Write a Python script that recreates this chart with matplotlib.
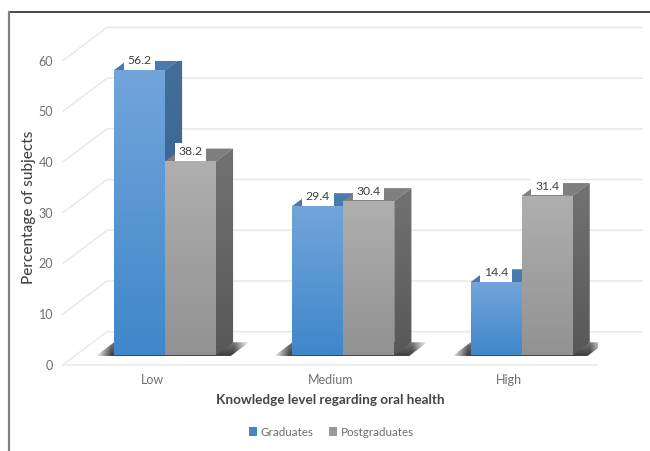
import numpy as np
import matplotlib
matplotlib.use("Agg")
import matplotlib.pyplot as plt
from matplotlib.colors import to_rgb
from matplotlib.lines import Line2D
from matplotlib.patches import Patch, Polygon

plt.rcParams["font.family"] = ["Lato", "DejaVu Sans"]

categories = ["Low", "Medium", "High"]
graduates = [56.2, 29.4, 14.4]
postgraduates = [38.2, 30.4, 31.4]
y_ticks = [0, 10, 20, 30, 40, 50, 60]

W, H = 650, 451
fig = plt.figure(figsize=(W / 100, H / 100), dpi=100, facecolor="white")
# The axes rectangle is the front edge of the chart floor.
ax = fig.add_axes([63 / W, 1 - 364.7 / H, 535 / W, 304.2 / H])
ax.set_xlim(-0.5, 2.5)
ax.set_ylim(0, 60)
ax.patch.set_visible(False)
for s in ax.spines.values():
    s.set_visible(False)

# Oblique projection: depth 1 is the back wall.
DEPTH_X = 44 / (535 / 3)
DEPTH_Y = 33 / (304.2 / 60)
BAR_FRONT, BAR_BACK = 0.29, 0.68
BAR_W = 51 / (535 / 3)


def proj(x, v, d):
    return x + d * DEPTH_X, v + d * DEPTH_Y


def gradient_poly(pts, top, bottom, z):
    pts = np.array(pts)
    c0, c1 = np.array(to_rgb(top)), np.array(to_rgb(bottom))
    t = np.linspace(0, 1, 128)[:, None, None]
    img = c0[None, None, :] * (1 - t) + c1[None, None, :] * t
    ext = (pts[:, 0].min(), pts[:, 0].max(), pts[:, 1].min(), pts[:, 1].max())
    im = ax.imshow(img, extent=ext, origin="upper", aspect="auto", zorder=z,
                   interpolation="bilinear")
    clip = Polygon(pts, closed=True, transform=ax.transData, fc="none", ec="none")
    ax.add_patch(clip)
    im.set_clip_path(clip)


def draw_shadow(x0, x1, z):
    # Soft dark sliver on the floor behind and beside a pair of bars.
    pad_l, pad_r = 17 / (535 / 3), 16 / (535 / 3)
    a = proj(x0 - pad_l, 0, 0.265)
    b = proj(x1 + pad_r, 0, 0.265)
    c = proj(x1 + pad_r, 0, BAR_BACK)
    d = proj(x0 - pad_l, 0, BAR_BACK)
    pts = np.array([a, b, c, d])
    xs = np.linspace(0, 1, 256)
    ys = np.linspace(0.7, 1, 32)[:, None]
    alpha = np.clip(np.minimum(xs, 1 - xs) / 0.1, 0, 1)[None, :] * ys
    img = np.zeros((32, 256, 4))
    img[..., :3] = to_rgb("#3c3c3c")
    img[..., 3] = alpha
    ext = (pts[:, 0].min(), pts[:, 0].max(), pts[:, 1].min(), pts[:, 1].max())
    im = ax.imshow(img, extent=ext, origin="upper", aspect="auto", zorder=z,
                   interpolation="bilinear")
    clip = Polygon(pts, closed=True, transform=ax.transData, fc="none", ec="none")
    ax.add_patch(clip)
    im.set_clip_path(clip)


def draw_bar(x, value, front, side, roof, z):
    l, r = x, x + BAR_W
    fl = proj(l, 0, BAR_FRONT); fr = proj(r, 0, BAR_FRONT)
    tl = proj(l, value, BAR_FRONT); tr = proj(r, value, BAR_FRONT)
    bl = proj(l, value, BAR_BACK); br = proj(r, value, BAR_BACK)
    sb = proj(r, 0, BAR_BACK)
    ax.add_patch(Polygon([tl, tr, br, bl], closed=True, fc=roof, ec="none", zorder=z))
    gradient_poly([fr, tr, br, sb], side[0], side[1], z)
    gradient_poly([fl, fr, tr, tl], front[0], front[1], z + 0.1)
    return tl, tr


# Back wall, side wall and floor lines
GRID = "#e8e8e8"
left, right = -0.5, 2.5
for v in y_ticks:
    p0 = (left, v)
    p1 = proj(left, v, 1)
    p2 = proj(right, v, 1)
    ax.plot([p0[0], p1[0], p2[0]], [p0[1], p1[1], p2[1]], color=GRID, lw=1.1,
            zorder=1, clip_on=False, solid_joinstyle="miter")
ax.plot([left, right], [0, 0], color=GRID, lw=1.1, zorder=1, clip_on=False)

BLUE_FRONT = ("#72a5da", "#3f87ca")
BLUE_SIDE = ("#446f9c", "#2f5c8c")
BLUE_ROOF = "#4a79ab"
GRAY_FRONT = ("#aeafae", "#929292")
GRAY_SIDE = ("#727272", "#585858")
GRAY_ROOF = "#7f7f7f"

x_all = np.arange(len(categories))
for i in x_all:
    # The pair of bars sits just left of the projected group centre.
    x0 = i - BAR_W
    draw_shadow(x0, x0 + 2 * BAR_W, 2)
    z = 3 + i
    tl, tr = draw_bar(x0, graduates[i], BLUE_FRONT, BLUE_SIDE, BLUE_ROOF, z)
    tl2, tr2 = draw_bar(x0 + BAR_W, postgraduates[i], GRAY_FRONT, GRAY_SIDE, GRAY_ROOF, z + 0.3)
    for (a, b), val, zz in (((tl, tr), graduates[i], z + 0.2), ((tl2, tr2), postgraduates[i], z + 0.6)):
        ax.annotate(f"{val:.1f}", xy=((a[0] + b[0]) / 2, a[1]), xytext=(0, 7),
                    textcoords="offset points", ha="center", va="center",
                    fontsize=8.8, color="#404040", zorder=zz,
                    bbox=dict(boxstyle="square,pad=0.3", fc="white", ec="none"))

ax.set_xlim(-0.5, 2.5)
ax.set_ylim(0, 60)
ax.set_xticks(x_all, categories)
ax.set_yticks(y_ticks)
ax.tick_params(length=0, labelsize=9, labelcolor="#6e6e6e")
ax.tick_params(axis="x", pad=7)
ax.tick_params(axis="y", pad=7)
ax.set_xlabel("Knowledge level regarding oral health", fontsize=9.7, fontweight="bold",
              color="#444444")
ax.xaxis.set_label_coords(0.5, -(400 - 364.7) / 304.2, transform=ax.transAxes)
ax.xaxis.label.set_verticalalignment("center")
ax.set_ylabel("Percentage of subjects", fontsize=11, color="#444444", fontweight="medium")
ax.yaxis.set_label_coords((29 - 63) / 535, (364.7 - 207.5) / 304.2, transform=ax.transAxes)
ax.yaxis.label.set_verticalalignment("center")

handles = [Patch(fc="#3f87ca", ec="none"), Patch(fc="#9a9a9a", ec="none")]
fig.legend(handles, ["Graduates", "Postgraduates"], loc="center", ncol=2,
           bbox_to_anchor=(331.5 / W, 1 - 432 / H), frameon=False, fontsize=8.4,
           labelcolor="#6e6e6e", handlelength=0.7, handleheight=0.7, handletextpad=0.35,
           columnspacing=1.3)

# Outer frame: dark top edge and grey left edge
fig.add_artist(Line2D([9 / W, 1], [1 - 12 / H, 1 - 12 / H], color="#2a2a2a", lw=1.2))
fig.add_artist(Line2D([9 / W, 9 / W], [0, 1 - 12 / H], color="#808080", lw=1.6))

fig.savefig("out.png", dpi=100)
